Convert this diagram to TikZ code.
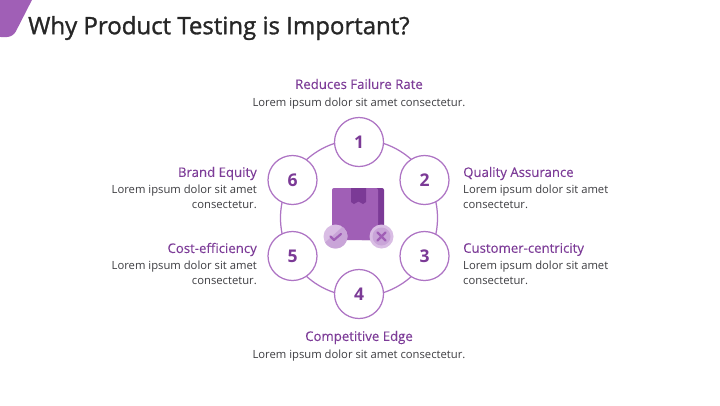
\documentclass[tikz,border=0pt]{standalone}
\usepackage{fontspec}
\setmainfont{Open Sans}
\newfontfamily\titlefont[FakeBold=1.2]{Open Sans}
\newfontfamily\headfont[FakeBold=0.08]{Open Sans}
\definecolor{vio}{HTML}{A05FB6}
\definecolor{viod}{HTML}{7B3A96}
\definecolor{ring}{HTML}{AE74C4}
\definecolor{head}{HTML}{7D3C98}
\definecolor{bodyc}{HTML}{3E3E42}
\definecolor{lite}{HTML}{D9BDE4}
\definecolor{lited}{HTML}{C9A5D8}
\tikzset{
 num/.style={circle,draw=ring,line width=1.25pt,fill=white,minimum size=49pt,inner sep=0pt,text=viod,font=\fontsize{17.5}{17.5}\selectfont\bfseries},
 hd/.style={text=head,font=\headfont\fontsize{13.2}{14}\selectfont,inner sep=0pt},
 bd/.style={text=bodyc,font=\fontsize{11.25}{15}\selectfont,inner sep=0pt},
}
\begin{document}
\begin{tikzpicture}[x=1pt,y=-1pt]
\useasboundingbox (0,0) rectangle (720,405);
\fill[white] (0,0) rectangle (720,405);
\fill[vio,rounded corners=6pt] (-5,-5) -- (34.5,-5) -- (13,37) -- (-5,37) -- cycle;
\node[anchor=west,inner sep=0pt,text=black!85,font=\titlefont\fontsize{24}{26}\selectfont] (title) at (28,28) {Why Product Testing is Important?};
\node[circle,draw=ring,line width=1.25pt,minimum size=157pt,inner sep=0pt] (ring) at (359,218) {};
\node[num] (n1) at (359,142) {1};
\node[num] (n2) at (424.5,180) {2};
\node[num] (n3) at (424.5,256) {3};
\node[num] (n4) at (359,294) {4};
\node[num] (n5) at (292.5,256) {5};
\node[num] (n6) at (292.5,180) {6};
% box
\fill[viod,rounded corners=2pt] (360,188) rectangle (384,240);
\fill[vio,rounded corners=2pt] (332,240) -- (332,188) -- (372,188) -- (378,188) -- (378,240) -- cycle;
\fill[viod] (351,188) -- (366,188) -- (366,202) -- (363,204) -- (358.5,201.5) -- (354,204) -- (351,202) -- cycle;
% badges
\fill[lite] (335.5,236.5) circle (12);
\fill[lited] (335.5,236.5) ++(7,-9.7) arc (-54:150:12) -- cycle;
\fill[lite] (381.5,236.5) circle (12);
\fill[lited] (381.5,236.5) circle (9);
\draw[vio,line width=2.2pt,line cap=round,line join=round] (330.5,236.5) -- (334,240) -- (341,234);
\draw[vio,line width=2.2pt,line cap=round] (377.5,232.5) -- (385.5,240.5) (385.5,232.5) -- (377.5,240.5);
% labels
\node[hd] (t1) at (359,84) {Reduces Failure Rate};
\node[bd] (b1) at (359,103.5) {Lorem ipsum dolor sit amet consectetur.};
\node[hd] (t4) at (359,337.5) {Competitive Edge};
\node[bd] (b4) at (359,355.5) {Lorem ipsum dolor sit amet consectetur.};
\node[hd,anchor=west] (t2) at (463,173.5) {Quality Assurance};
\node[bd,anchor=north west,align=left] (b2) at (463,184.5) {Lorem ipsum dolor sit amet\\consectetur.};
\node[hd,anchor=west] (t3) at (463,249.5) {Customer-centricity};
\node[bd,anchor=north west,align=left] (b3) at (463,260.5) {Lorem ipsum dolor sit amet\\consectetur.};
\node[hd,anchor=east] (t6) at (257,173.5) {Brand Equity};
\node[bd,anchor=north east,align=right] (b6) at (257,184.5) {Lorem ipsum dolor sit amet\\consectetur.};
\node[hd,anchor=east] (t5) at (257,249.5) {Cost-efficiency};
\node[bd,anchor=north east,align=right] (b5) at (257,260.5) {Lorem ipsum dolor sit amet\\consectetur.};
\end{tikzpicture}
\end{document}
